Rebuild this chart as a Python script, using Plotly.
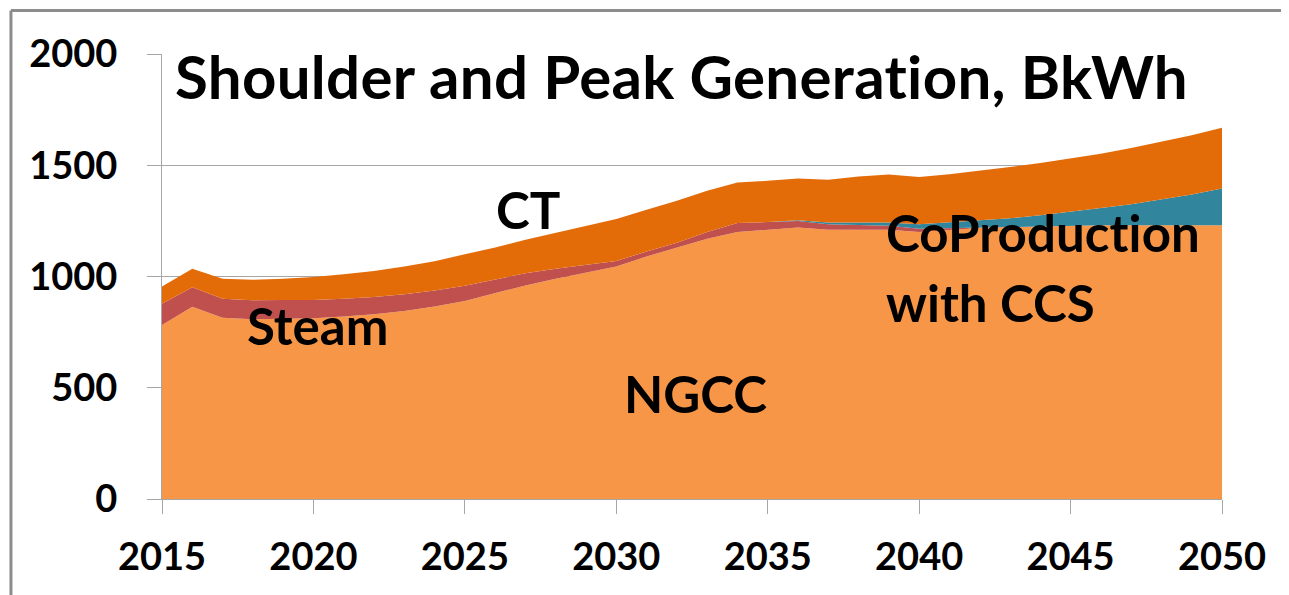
import plotly.graph_objects as go

years = list(range(2015, 2051))
ngcc = [782, 864, 815, 808, 810, 812, 820, 830, 845, 865, 890, 925, 960, 990, 1018, 1045, 1090, 1130,
        1170, 1200, 1210, 1220, 1210, 1210, 1210, 1200, 1210, 1218, 1222, 1225, 1228, 1230, 1230, 1230, 1230, 1230]
steam = [95, 88, 85, 85, 84, 82, 80, 78, 75, 72, 68, 62, 55, 45, 35, 25, 22, 22,
         30, 40, 35, 30, 25, 20, 18, 15, 8, 3, 0, 0, 0, 0, 0, 0, 0, 0]
coprod = [0, 0, 0, 0, 0, 0, 0, 0, 0, 0, 0, 0, 0, 0, 0, 0, 0, 0,
          0, 0, 0, 3, 8, 12, 15, 20, 25, 32, 40, 50, 62, 78, 95, 115, 138, 165]
ct = [78, 83, 90, 92, 96, 104, 110, 117, 125, 131, 142, 143, 150, 160, 172, 188, 188, 188,
      185, 182, 185, 187, 192, 208, 215, 212, 217, 222, 230, 235, 240, 244, 252, 260, 267, 273]

series = [
    ("NGCC", ngcc, "#F79646"),
    ("Steam", steam, "#C0504D"),
    ("CoProduction with CCS", coprod, "#31859C"),
    ("CT", ct, "#E36C09"),
]

y_ticks = [0, 500, 1000, 1500, 2000]
x_ticks = [2015, 2020, 2025, 2030, 2035, 2040, 2045, 2050]

FONT = "Lato"
fig = go.Figure()
for name, vals, col in series:
    fig.add_trace(go.Scatter(
        x=years, y=vals, name=name, mode="lines", stackgroup="one",
        line=dict(width=0, color=col), fillcolor=col, hoverinfo="skip",
    ))

grid = "#a6a6a6"
fig.update_layout(
    width=1289, height=595,
    margin=dict(l=154, r=75, t=46, b=104),
    paper_bgcolor="white", plot_bgcolor="white",
    showlegend=False,
    font=dict(family=FONT, color="black"),
    xaxis=dict(
        range=[2015, 2050], tickvals=x_ticks, ticktext=[str(v) for v in x_ticks],
        showgrid=False, zeroline=False, showline=True, linecolor=grid, linewidth=1,
        ticks="outside", ticklen=14, tickcolor=grid, tickwidth=1,
        tickfont=dict(family=FONT, size=38, color="black", weight="bold"),
        ticklabelstandoff=10,
    ),
    yaxis=dict(
        range=[0, 2000], tickvals=y_ticks, ticktext=[str(v) for v in y_ticks],
        showgrid=True, gridcolor=grid, gridwidth=1, zeroline=False,
        showline=True, linecolor=grid, linewidth=1,
        ticks="outside", ticklen=14, tickcolor=grid, tickwidth=1,
        tickfont=dict(family=FONT, size=38, color="black", weight="bold"),
        ticklabelstandoff=22,
    ),
)


def noliga(s, ls="0.3px"):
    return f'<span style="font-variant-ligatures:none;letter-spacing:{ls}">{s}</span>'


labfont = dict(family=FONT, size=51, color="black", weight="bold")
fig.add_annotation(x=0.01, y=1.037, xref="paper", yref="paper", xanchor="left", yanchor="top",
                   text=noliga("Shoulder and Peak Generation, BkWh"), showarrow=False,
                   font=dict(family=FONT, size=60, color="black", weight="bold"))
fig.add_annotation(x=2027.1, y=1300, text="CT", showarrow=False, font=labfont)
fig.add_annotation(x=2020.15, y=782, text="Steam", showarrow=False, font=labfont)
fig.add_annotation(x=2032.6, y=472, text="NGCC", showarrow=False, font=labfont)
fig.add_annotation(x=2038.85, y=1200, text=noliga("CoProduction", "0.1px"), showarrow=False,
                   font=labfont, xanchor="left")
fig.add_annotation(x=2038.85, y=885, text="with CCS", showarrow=False, font=labfont, xanchor="left")

frame = "#8c8c8c"
fig.add_shape(type="line", xref="paper", yref="paper", x0=-0.1425, x1=-0.1425, y0=-1, y1=1.0976,
              line=dict(color=frame, width=3))
fig.add_shape(type="line", xref="paper", yref="paper", x0=-0.1425, x1=2, y0=1.0976, y1=1.0976,
              line=dict(color=frame, width=3))

fig.write_html("out.html")
